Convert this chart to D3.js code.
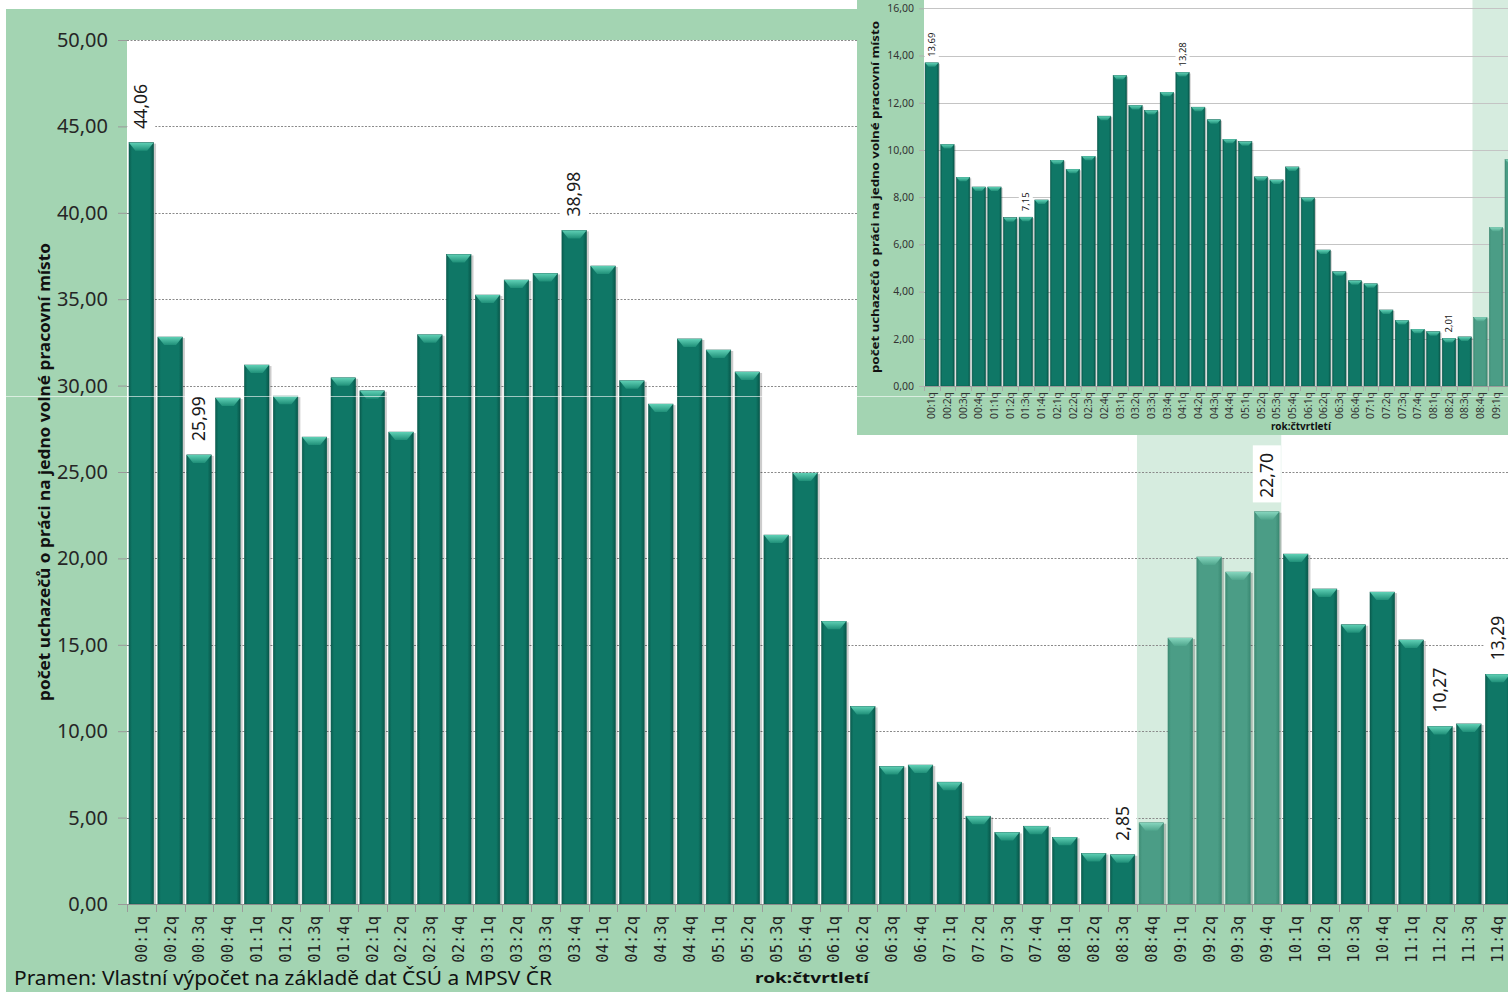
<!DOCTYPE html>
<html>
<head>
<meta charset="utf-8">
<script src="https://cdn.jsdelivr.net/npm/d3@7"></script>
<style>
  html, body { margin: 0; padding: 0; background: #fff; }
  svg { display: block; }
</style>
</head>
<body>
<div id="chart"></div>
<script>
// quarters (rok:čtvrtletí)
const quarters = [
  '00:1q', '00:2q', '00:3q', '00:4q', '01:1q', '01:2q', '01:3q', '01:4q',
  '02:1q', '02:2q', '02:3q', '02:4q', '03:1q', '03:2q', '03:3q', '03:4q',
  '04:1q', '04:2q', '04:3q', '04:4q', '05:1q', '05:2q', '05:3q', '05:4q',
  '06:1q', '06:2q', '06:3q', '06:4q', '07:1q', '07:2q', '07:3q', '07:4q',
  '08:1q', '08:2q', '08:3q', '08:4q', '09:1q', '09:2q', '09:3q', '09:4q',
  '10:1q', '10:2q', '10:3q', '10:4q', '11:1q', '11:2q', '11:3q', '11:4q'
];

// main chart: applicants per vacancy
const mainValues = [
  44.06, 32.81, 25.99, 29.28, 31.19, 29.39, 27.02, 30.45,
  29.70, 27.31, 32.94, 37.59, 35.24, 36.11, 36.49, 38.98,
  36.92, 30.28, 28.93, 32.70, 32.06, 30.79, 21.35, 24.94,
  16.36, 11.43, 7.96, 8.04, 7.05, 5.08, 4.14, 4.50,
  3.86, 2.92, 2.85, 4.70, 15.39, 20.08, 19.21, 22.70,
  20.25, 18.23, 16.16, 18.05, 15.28, 10.27, 10.42, 13.29
];
const mainLabelled = ['00:1q', '00:3q', '03:4q', '08:3q', '09:4q', '11:2q', '11:4q'];
const mainTicks = [0, 5, 10, 15, 20, 25, 30, 35, 40, 45, 50];

// inset chart (only the visible part, up to 09:2q)
const insetValues = [
  13.69, 10.23, 8.84, 8.43, 8.43, 7.13, 7.15, 7.88,
  9.56, 9.18, 9.73, 11.43, 13.15, 11.88, 11.67, 12.44,
  13.28, 11.81, 11.28, 10.45, 10.35, 8.86, 8.73, 9.28,
  7.97, 5.76, 4.84, 4.46, 4.33, 3.22, 2.77, 2.40,
  2.30, 2.01, 2.08, 2.91, 6.72, 9.60
];
const insetLabelled = ['00:1q', '01:3q', '04:1q', '08:2q'];
const insetTicks = [0, 2, 4, 6, 8, 10, 12, 14, 16];

// shaded quarters
const highlighted = ['08:4q', '09:1q', '09:2q', '09:3q', '09:4q'];

const yTitle = 'počet uchazečů o práci na jedno volné pracovní místo';
const xTitle = 'rok:čtvrtletí';
const source = 'Pramen: Vlastní výpočet na základě dat ČSÚ a MPSV ČR';

const W = 1508, H = 992;
const frameGreen = '#a3d4b2';
const shadeGreen = '#d6ecdf';

const cz = d3.formatLocale({ decimal: ',', thousands: ' ', grouping: [3], currency: ['', ' Kč'] });
const fmt = cz.format('.2f');

const svg = d3.select('#chart').append('svg')
  .attr('width', W)
  .attr('height', H);

// gradients
const defs = svg.append('defs');
const hGrad = (id, stops) => {
  const g = defs.append('linearGradient').attr('id', id)
    .attr('x1', 0).attr('x2', 1).attr('y1', 0).attr('y2', 0);
  stops.forEach(s => g.append('stop').attr('offset', s[0]).attr('stop-color', s[1]));
};
const vGrad = (id, stops) => {
  const g = defs.append('linearGradient').attr('id', id)
    .attr('x1', 0).attr('x2', 0).attr('y1', 0).attr('y2', 1);
  stops.forEach(s => g.append('stop').attr('offset', s[0]).attr('stop-color', s[1]));
};
hGrad('barDark', [['0%', '#0a5e50'], ['12%', '#0f7766'], ['85%', '#0f7766'], ['100%', '#08584b']]);
hGrad('barLight', [['0%', '#3d8c75'], ['12%', '#4b9d86'], ['85%', '#4b9d86'], ['100%', '#3b8a73']]);
vGrad('capDark', [['0%', '#5fd0b5'], ['100%', '#1f8f78']]);
vGrad('capLight', [['0%', '#86d6be'], ['100%', '#4fa58c']]);

// ---------- MAIN CHART ----------
const margin = { top: 40, left: 127, bottom: 904 };

svg.append('rect')
  .attr('x', 6).attr('y', 9)
  .attr('width', W - 6).attr('height', H - 9)
  .attr('fill', frameGreen);

const x = d3.scaleBand()
  .domain(quarters)
  .range([margin.left, 1512])
  .paddingInner(0.15)
  .paddingOuter(0.07);

const y = d3.scaleLinear()
  .domain([0, 50])
  .range([margin.bottom, margin.top]);

svg.append('rect')
  .attr('x', margin.left).attr('y', margin.top)
  .attr('width', W - margin.left).attr('height', margin.bottom - margin.top)
  .attr('fill', '#fff');

const bandStart = q => x(q) - x.step() * x.paddingInner() / 2;
svg.append('rect')
  .attr('x', bandStart(highlighted[0]))
  .attr('y', margin.top)
  .attr('width', x.step() * highlighted.length)
  .attr('height', margin.bottom - margin.top)
  .attr('fill', shadeGreen);

// gridlines
svg.append('g').selectAll('line')
  .data(mainTicks.filter(d => d > 0))
  .join('line')
  .attr('x1', margin.left).attr('x2', W)
  .attr('y1', d => Math.round(y(d)) + 0.5).attr('y2', d => Math.round(y(d)) + 0.5)
  .attr('stroke', '#8a8a8a')
  .attr('stroke-dasharray', '2,1.5');

// y axis
const yAxisGroup = svg.append('g').attr('transform', `translate(${margin.left},0)`);
yAxisGroup.call(d3.axisLeft(y).tickValues(mainTicks).tickFormat(fmt).tickSize(9).tickPadding(10));
yAxisGroup.select('.domain').remove();
yAxisGroup.selectAll('line').attr('stroke', '#9a9a9a');
yAxisGroup.selectAll('text')
  .attr('font-family', 'Noto Sans, sans-serif')
  .attr('font-size', 20)
  .attr('fill', '#262626');

const drawBars = (g, values, xs, ys, capH, shadow) => {
  const data = values.map((v, i) => ({ q: quarters[i], v }));
  const w = xs.bandwidth();
  const base = ys(0);
  const bars = g.selectAll('g.bar').data(data).join('g').attr('class', 'bar');
  const light = d => highlighted.includes(d.q);
  bars.append('rect')
    .attr('x', d => xs(d.q) + shadow)
    .attr('y', d => ys(d.v) + 1)
    .attr('width', w)
    .attr('height', d => base - ys(d.v) - 1)
    .attr('fill', 'rgba(0,0,0,0.2)');
  bars.append('rect')
    .attr('x', d => xs(d.q))
    .attr('y', d => ys(d.v))
    .attr('width', w)
    .attr('height', d => base - ys(d.v))
    .attr('fill', d => light(d) ? 'url(#barLight)' : 'url(#barDark)')
    .attr('stroke', d => light(d) ? '#3f8a74' : '#0a5a4c')
    .attr('stroke-width', 0.6);
  bars.append('path')
    .attr('d', d => {
      const x0 = xs(d.q), t = ys(d.v);
      return `M${x0},${t}L${x0 + w},${t}L${x0 + w * 0.74},${t + capH}L${x0 + w * 0.26},${t + capH}Z`;
    })
    .attr('fill', d => light(d) ? 'url(#capLight)' : 'url(#capDark)');
};

drawBars(svg.append('g'), mainValues, x, y, 8, 2.5);

// x axis
const xAxisGroup = svg.append('g').attr('transform', `translate(0,${margin.bottom})`);
xAxisGroup.call(d3.axisBottom(x).tickSize(0).tickPadding(0));
xAxisGroup.select('.domain')
  .attr('d', `M${margin.left},0.5H${W}`)
  .attr('stroke', '#8c8c8c');
xAxisGroup.selectAll('.tick text')
  .attr('transform', 'rotate(-90)')
  .attr('text-anchor', 'end')
  .attr('x', -12)
  .attr('y', 0)
  .attr('dy', '0.35em')
  .attr('font-family', 'DejaVu Sans Mono, monospace')
  .attr('font-size', 15.5)
  .attr('fill', '#1e1e1e');
xAxisGroup.append('g').selectAll('line')
  .data(quarters)
  .join('line')
  .attr('x1', d => Math.round(bandStart(d)) + 0.5)
  .attr('x2', d => Math.round(bandStart(d)) + 0.5)
  .attr('y1', 0).attr('y2', 8)
  .attr('stroke', '#9a9a9a');

// data labels
const labelFont = 'Noto Sans, sans-serif';
const addLabels = (g, values, list, xs, ys, size, gap, boxW) => {
  const lab = g.selectAll('g.lab')
    .data(list.map(q => ({ q, v: values[quarters.indexOf(q)] })))
    .join('g').attr('class', 'lab')
    .attr('transform', d => `translate(${xs(d.q) + xs.bandwidth() / 2},${ys(d.v) - gap}) rotate(-90)`);
  lab.append('text')
    .attr('x', 0).attr('y', 0)
    .attr('dy', '0.35em')
    .attr('font-family', labelFont)
    .attr('font-size', size)
    .attr('fill', '#1a1a1a')
    .text(d => fmt(d.v));
  lab.each(function () {
    const t = d3.select(this).select('text');
    const len = t.node().getComputedTextLength();
    d3.select(this).insert('rect', 'text')
      .attr('x', -gap / 3).attr('y', -boxW / 2)
      .attr('width', len + gap * 2 / 3 + 3).attr('height', boxW)
      .attr('fill', '#fff');
  });
};
addLabels(svg.append('g'), mainValues, mainLabelled, x, y, 17.5, 14, 28);

// axis titles and source
svg.append('text')
  .attr('transform', `translate(50,${(margin.top + margin.bottom) / 2}) rotate(-90)`)
  .attr('text-anchor', 'middle')
  .attr('font-family', 'Noto Sans, sans-serif')
  .attr('font-weight', 'bold')
  .attr('font-size', 15.5)
  .attr('textLength', 458)
  .attr('lengthAdjust', 'spacingAndGlyphs')
  .attr('fill', '#111')
  .text(yTitle);

svg.append('text')
  .attr('x', 812).attr('y', 983)
  .attr('text-anchor', 'middle')
  .attr('font-family', 'Noto Sans, sans-serif')
  .attr('font-weight', 'bold')
  .attr('font-size', 15)
  .attr('textLength', 114)
  .attr('lengthAdjust', 'spacingAndGlyphs')
  .attr('fill', '#111')
  .text(xTitle);

svg.append('text')
  .attr('x', 14).attr('y', 985)
  .attr('font-family', 'Noto Sans, sans-serif')
  .attr('font-size', 19.5)
  .attr('textLength', 538)
  .attr('lengthAdjust', 'spacingAndGlyphs')
  .attr('fill', '#111')
  .text(source);

// ---------- INSET CHART ----------
const inset = svg.append('g');
const ins = { left: 857, top: 0, plotLeft: 924, plotBottom: 386, bottom: 435 };

inset.append('rect')
  .attr('x', ins.left).attr('y', ins.top)
  .attr('width', W - ins.left).attr('height', ins.bottom - ins.top)
  .attr('fill', frameGreen);

const xi = d3.scaleBand()
  .domain(quarters)
  .range([ins.plotLeft, ins.plotLeft + 15.67 * quarters.length])
  .paddingInner(0.15)
  .paddingOuter(0.07);

const yi = d3.scaleLinear()
  .domain([0, 16])
  .range([ins.plotBottom, 8.3]);

inset.append('rect')
  .attr('x', ins.plotLeft).attr('y', 0)
  .attr('width', W - ins.plotLeft).attr('height', ins.plotBottom)
  .attr('fill', '#fff');

const bandStartI = q => xi(q) - xi.step() * xi.paddingInner() / 2;
inset.append('rect')
  .attr('x', bandStartI(highlighted[0]))
  .attr('y', 0)
  .attr('width', xi.step() * highlighted.length)
  .attr('height', ins.plotBottom)
  .attr('fill', shadeGreen);

inset.append('g').selectAll('line')
  .data(insetTicks.filter(d => d > 0))
  .join('line')
  .attr('x1', ins.plotLeft).attr('x2', W)
  .attr('y1', d => Math.round(yi(d)) + 0.5).attr('y2', d => Math.round(yi(d)) + 0.5)
  .attr('stroke', '#c4c4c4');

const yiAxis = inset.append('g').attr('transform', `translate(${ins.plotLeft},0)`);
yiAxis.call(d3.axisLeft(yi).tickValues(insetTicks).tickFormat(fmt).tickSize(5).tickPadding(5));
yiAxis.select('.domain').remove();
yiAxis.selectAll('line').attr('stroke', '#b0b0b0');
yiAxis.selectAll('text')
  .attr('font-family', 'Noto Sans, sans-serif')
  .attr('font-size', 10.5)
  .attr('fill', '#333');

drawBars(inset.append('g'), insetValues, xi, yi, 4, 1.5);

// only the quarters whose label fits in the picture
const insetTickQuarters = quarters.filter(q => xi(q) + xi.bandwidth() / 2 + 5 < W);
const xiAxis = inset.append('g').attr('transform', `translate(0,${ins.plotBottom})`);
xiAxis.call(d3.axisBottom(xi).tickValues(insetTickQuarters).tickSize(0).tickPadding(0));
xiAxis.select('.domain')
  .attr('d', `M${ins.plotLeft},0.5H${W}`)
  .attr('stroke', '#9a9a9a');
xiAxis.selectAll('.tick text')
  .attr('transform', 'rotate(-90)')
  .attr('text-anchor', 'end')
  .attr('x', -6)
  .attr('y', 0)
  .attr('dy', '0.35em')
  .attr('font-family', 'Noto Sans, sans-serif')
  .attr('font-size', 10.5)
  .attr('textLength', 27)
  .attr('lengthAdjust', 'spacingAndGlyphs')
  .attr('fill', '#333');
xiAxis.append('g').selectAll('line')
  .data(insetTickQuarters)
  .join('line')
  .attr('x1', d => Math.round(bandStartI(d)) + 0.5)
  .attr('x2', d => Math.round(bandStartI(d)) + 0.5)
  .attr('y1', 0).attr('y2', 5)
  .attr('stroke', '#a8a8a8');

addLabels(inset.append('g'), insetValues, insetLabelled, xi, yi, 9.5, 6, 14);

inset.append('text')
  .attr('transform', `translate(879,${(8 + ins.plotBottom) / 2}) rotate(-90)`)
  .attr('text-anchor', 'middle')
  .attr('font-family', 'Noto Sans, sans-serif')
  .attr('font-weight', 'bold')
  .attr('font-size', 10)
  .attr('textLength', 352)
  .attr('lengthAdjust', 'spacingAndGlyphs')
  .attr('fill', '#111')
  .text(yTitle);

inset.append('text')
  .attr('x', 1301).attr('y', 430)
  .attr('text-anchor', 'middle')
  .attr('font-family', 'Noto Sans, sans-serif')
  .attr('font-weight', 'bold')
  .attr('font-size', 10)
  .attr('fill', '#111')
  .text(xTitle);

// faint scan line across the picture
svg.append('line')
  .attr('x1', 0).attr('x2', W)
  .attr('y1', 396.5).attr('y2', 396.5)
  .attr('stroke', '#fff')
  .attr('stroke-opacity', 0.6);
</script>
</body>
</html>
